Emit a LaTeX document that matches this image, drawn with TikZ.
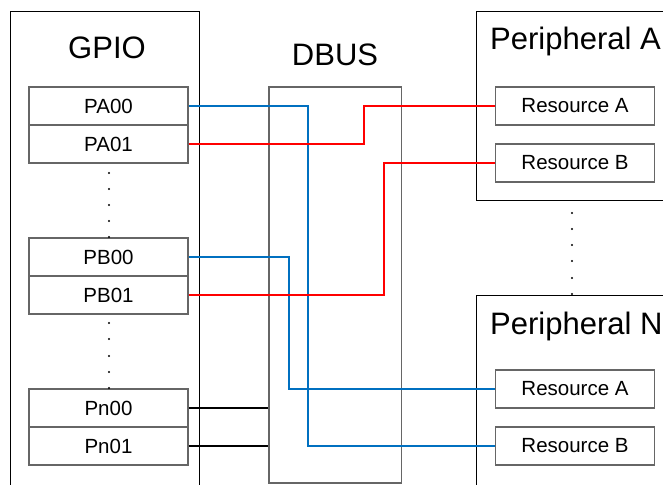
\documentclass[tikz,border=0pt]{standalone}
\usepackage{fontspec}
\setmainfont{Liberation Sans}
\usetikzlibrary{positioning}
\definecolor{wireblue}{RGB}{0,112,192}
\definecolor{wirered}{RGB}{255,0,0}

\begin{document}
\begin{tikzpicture}[x=1pt,y=-1pt,
  outerbox/.style={draw=black,line width=0.8pt,inner sep=0pt},
  pinbox/.style={draw=black!60,line width=1.1pt,minimum width=159pt,minimum height=38pt,inner sep=0pt,font=\fontsize{20.5}{24}\selectfont},
  title/.style={font=\fontsize{31}{37}\selectfont,inner sep=0pt},
  bluewire/.style={draw=wireblue,line width=2pt},
  redwire/.style={draw=wirered,line width=2pt},
  blackwire/.style={draw=black,line width=1.6pt}]
\useasboundingbox (0,0) rectangle (663,484);
\clip (0,0) rectangle (663,484);
\node[outerbox,minimum width=188.5pt,minimum height=500pt] (gpio) at (104.75,261.5) {};
\node[outerbox,draw=black!60,line width=1.1pt,minimum width=132.5pt,minimum height=396pt] (dbus) at (335.25,285) {};
\node[outerbox,minimum width=240pt,minimum height=188.5pt] (perA) at (596.5,105.75) {};
\node[outerbox,minimum width=240pt,minimum height=240pt] (perN) at (596.5,415) {};
\node[title,anchor=base] (gpiot) at (107,58.3) {GPIO};
\node[title,anchor=base] (dbust) at (335,65.7) {DBUS};
\node[title,anchor=base west] (perAt) at (490,49.3) {Peripheral A};
\node[title,anchor=base west] (perNt) at (490,334.3) {Peripheral N};
\node[pinbox] (pa00) at (108.5,106) {PA00};
\node[pinbox] (pa01) at (108.5,144) {PA01};
\node[pinbox] (pb00) at (108.5,257) {PB00};
\node[pinbox] (pb01) at (108.5,295) {PB01};
\node[pinbox] (pn00) at (108.5,408) {Pn00};
\node[pinbox] (pn01) at (108.5,446) {Pn01};
\node[pinbox] (ara) at (575,106) {Resource A};
\node[pinbox] (arb) at (575,163) {Resource B};
\node[pinbox] (nra) at (575,389) {Resource A};
\node[pinbox] (nrb) at (575,446) {Resource B};
\foreach \y in {173,189,205,221,237,323,339,356,372,388}
  \fill (109,\y) circle (1.2pt);
\foreach \y in {213,229,245,261,278,294}
  \fill (572,\y) circle (1.2pt);
\draw[bluewire] (pa00.east) -- ++(119,0) |- (nrb.west);
\draw[redwire] (pa01.east) -- ++(175,0) |- (ara.west);
\draw[bluewire] (pb00.east) -- ++(100,0) |- (nra.west);
\draw[redwire] (pb01.east) -- ++(195,0) |- (arb.west);
\draw[blackwire] (pn00.east) -- (pn00.east -| dbus.west);
\draw[blackwire] (pn01.east) -- (pn01.east -| dbus.west);
\end{tikzpicture}
\end{document}
